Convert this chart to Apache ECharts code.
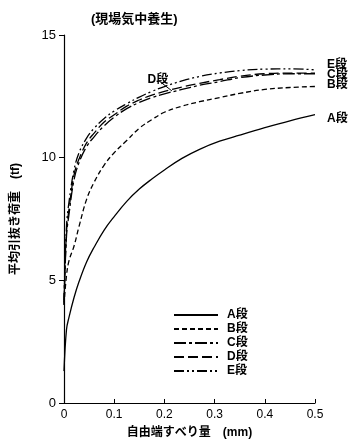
<!DOCTYPE html>
<html><head><meta charset="utf-8">
<script src="https://cdn.jsdelivr.net/npm/echarts@6/dist/echarts.min.js"></script>
<style>html,body{margin:0;padding:0;background:#fff}#c{width:350px;height:444px}</style>
</head><body><div id="c"></div>
<script>
const slip = [0, 0.005, 0.01, 0.02, 0.03, 0.045, 0.06, 0.08, 0.1, 0.125, 0.15, 0.175, 0.2, 0.235, 0.27, 0.31, 0.35, 0.4, 0.45, 0.5];
const loadA = [1.3, 3.0, 3.5, 4.3, 4.95, 5.75, 6.35, 7.05, 7.6, 8.22, 8.72, 9.13, 9.5, 9.97, 10.34, 10.67, 10.92, 11.22, 11.5, 11.75];
const loadB = [4.0, 5.2, 5.8, 6.4, 7.2, 8.3, 9.0, 9.7, 10.2, 10.7, 11.2, 11.55, 11.85, 12.1, 12.28, 12.45, 12.62, 12.78, 12.86, 12.9];
const loadC = [4.0, 6.8, 7.7, 9.1, 9.8, 10.45, 10.85, 11.3, 11.65, 12.0, 12.25, 12.45, 12.6, 12.78, 12.95, 13.1, 13.26, 13.37, 13.42, 13.42];
const loadD = [4.1, 7.0, 7.9, 9.3, 9.95, 10.6, 11.0, 11.45, 11.75, 12.1, 12.35, 12.55, 12.7, 12.88, 13.03, 13.18, 13.32, 13.42, 13.45, 13.45];
const loadE = [4.2, 7.2, 8.2, 9.5, 10.2, 10.8, 11.2, 11.6, 11.9, 12.2, 12.47, 12.7, 12.9, 13.13, 13.31, 13.45, 13.55, 13.61, 13.62, 13.58];
const seriesNames = ['A段', 'B段', 'C段', 'D段', 'E段'];
const xTicks = ['0', '0.1', '0.2', '0.3', '0.4', '0.5'];
const yTicks = ['0', '5', '10', '15'];
const titleText = '(現場気中養生)';
const xName = '自由端すべり量　(mm)';
const yName = '平均引抜き荷重　(tf)';

const FONT = '"Liberation Sans", "Noto Sans CJK JP", sans-serif';
const dashes = ['solid', [5, 3], [12, 3, 3, 3], [10, 4], [10, 3, 2, 3, 2, 3]];
const endOffsets = [[4, 4], [4, -2], [4, 1], null, [4, -5]];
const allLoads = [loadA, loadB, loadC, loadD, loadE];

const series = seriesNames.map((n, i) => {
  const s = {
    name: n, type: 'line', symbol: 'none', smooth: 0.4,
    data: slip.map((x, k) => [x, allLoads[i][k]]),
    lineStyle: { color: '#000', width: 1.3, type: dashes[i] },
    itemStyle: { color: '#000' },
    z: 5 - i,
    animation: false
  };
  if (endOffsets[i]) {
    s.endLabel = { show: true, formatter: n, offset: endOffsets[i], color: '#000',
      fontSize: 12, fontFamily: FONT, fontWeight: 'bold' };
  }
  if (n === 'D段') {
    s.markLine = {
      silent: true, symbol: ['none', 'none'], animation: false,
      lineStyle: { color: '#000', width: 1, type: 'solid' },
      label: { show: true, position: 'start', formatter: 'D段', color: '#000', fontSize: 12,
        fontFamily: FONT, fontWeight: 'bold', distance: 2 },
      data: [[{ coord: [0.19, 13.12] }, { coord: [0.215, 12.72] }]]
    };
  }
  return s;
});

const chart = echarts.init(document.getElementById('c'), null, { renderer: 'canvas' });
chart.setOption({
  backgroundColor: '#fff',
  animation: false,
  textStyle: { fontFamily: FONT },
  title: {
    text: titleText, left: 86, top: 8,
    textStyle: { fontSize: 13, fontWeight: 'bold', color: '#000', fontFamily: FONT }
  },
  grid: { left: 64, right: 35, top: 35, bottom: 39, containLabel: false },
  legend: {
    orient: 'vertical', left: 168, top: 304, itemWidth: 44, itemHeight: 8, itemGap: 2,
    data: seriesNames,
    itemStyle: { opacity: 0 },
    textStyle: { fontSize: 12, color: '#000', fontWeight: 'bold', fontFamily: FONT, padding: [0, 0, 0, 4] }
  },
  xAxis: {
    type: 'value', min: 0, max: 0.5, interval: 0.1,
    name: xName, nameLocation: 'middle', nameGap: 24,
    nameTextStyle: { fontSize: 12, color: '#000', fontWeight: 'bold', fontFamily: FONT },
    axisLine: { show: true, lineStyle: { color: '#000', width: 1.2 } },
    axisTick: { show: true, inside: true, length: 4, lineStyle: { color: '#000' } },
    axisLabel: { color: '#000', fontSize: 12, margin: 6, formatter: v => xTicks[Math.round(v * 10)] },
    splitLine: { show: false }
  },
  yAxis: {
    type: 'value', min: 0, max: 15, interval: 5,
    name: yName, nameLocation: 'middle', nameGap: 42, nameRotate: 90,
    nameTextStyle: { fontSize: 12, color: '#000', fontWeight: 'bold', fontFamily: FONT },
    axisLine: { show: true, lineStyle: { color: '#000', width: 1.2 } },
    axisTick: { show: true, length: 5, lineStyle: { color: '#000' } },
    axisLabel: { color: '#000', fontSize: 13, margin: 8, formatter: v => yTicks[Math.round(v / 5)] },
    splitLine: { show: false }
  },
  series: series
});
</script></body></html>
